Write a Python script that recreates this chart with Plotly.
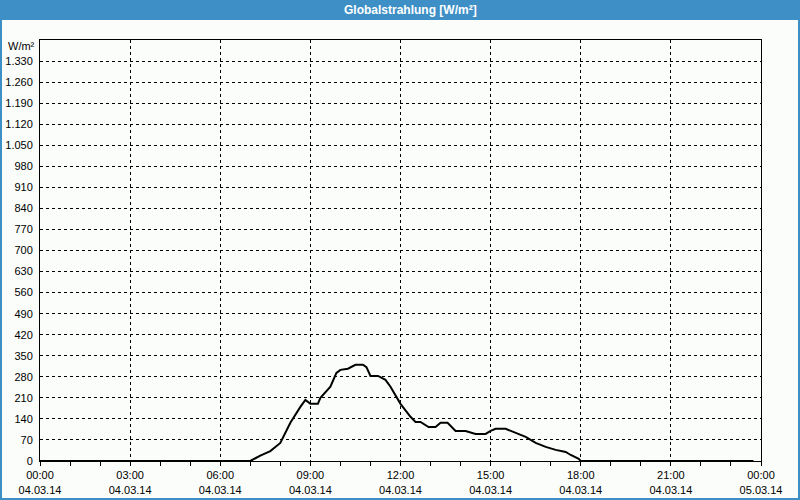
import plotly.graph_objects as go

# --- data (time of day, W/m²) ---
times = ["00:00", "07:00", "07:20", "07:40", "08:00", "08:20", "08:40", "08:50", "09:00",
         "09:15", "09:20", "09:40", "09:52", "10:00", "10:15", "10:30", "10:45", "10:52",
         "11:00", "11:15", "11:30", "11:40", "12:00", "12:20", "12:30", "12:40", "12:56",
         "13:10", "13:20", "13:34", "13:50", "14:10", "14:30", "14:50", "15:00", "15:10",
         "15:30", "15:50", "16:10", "16:30", "16:50", "17:10", "17:30", "17:40", "17:56",
         "18:00", "23:45"]
values = [0, 0, 18, 33, 60, 127, 180, 203, 190,
          190, 210, 247, 293, 303, 307, 320, 320, 312,
          283, 283, 270, 247, 190, 147, 130, 130, 113,
          113, 127, 127, 100, 100, 90, 90, 100, 107,
          107, 93, 80, 60, 47, 37, 30, 20, 7,
          0, 0]

x_tick_hours = ["00:00", "03:00", "06:00", "09:00", "12:00", "15:00", "18:00", "21:00", "00:00"]
x_tick_dates = ["04.03.14"] * 8 + ["05.03.14"]
y_ticks = list(range(0, 1331, 70))
y_ticktext = [f"{v:,}".replace(",", ".") for v in y_ticks]

day = "2014-03-04"
xs = [f"{day} {t}" for t in times]
tickvals = [f"{day} {h:02d}:00" for h in range(0, 24, 3)] + ["2014-03-05 00:00"]
ticktext = [f"{h}<br>{d}" for h, d in zip(x_tick_hours, x_tick_dates)]

W, H = 800, 500
ml, mr, mt, mb = 40, 39, 40, 39
pw, ph = W - ml - mr, H - mt - mb

def px(x):
    return (x - ml) / pw

def py(y):
    return (H - mb - y) / ph

fig = go.Figure()
fig.add_trace(go.Scatter(x=xs, y=values, mode="lines",
                         line=dict(color="black", width=2), hoverinfo="x+y"))

blue = "#3d8fc6"
shapes = [
    dict(type="rect", xref="paper", yref="paper", x0=px(0), x1=px(800), y0=py(0), y1=py(20),
         fillcolor=blue, line=dict(width=0), layer="above"),
    dict(type="rect", xref="paper", yref="paper", x0=px(0), x1=px(2), y0=py(0), y1=py(500),
         fillcolor=blue, line=dict(width=0)),
    dict(type="rect", xref="paper", yref="paper", x0=px(798), x1=px(800), y0=py(0), y1=py(500),
         fillcolor=blue, line=dict(width=0)),
    dict(type="rect", xref="paper", yref="paper", x0=px(0), x1=px(800), y0=py(498), y1=py(500),
         fillcolor=blue, line=dict(width=0)),
]

fig.update_layout(
    width=W, height=H,
    margin=dict(l=ml, r=mr, t=mt, b=mb, autoexpand=False),
    paper_bgcolor="#fbfdfb", plot_bgcolor="#fbfdfb",
    showlegend=False,
    font=dict(family="Liberation Sans, Arial, sans-serif", size=11, color="black"),
    shapes=shapes,
    annotations=[
        dict(text="<b>Globalstrahlung [W/m²]</b>", xref="paper", yref="paper",
             x=px(410), y=py(10), showarrow=False, xanchor="center", yanchor="middle",
             font=dict(color="white", size=12)),
        dict(text="W/m²", xref="paper", yref="paper", x=px(37), y=py(46),
             showarrow=False, xanchor="right", yanchor="middle", font=dict(size=11)),
    ],
    xaxis=dict(
        type="date", range=["2014-03-04 00:00", "2014-03-05 00:00"],
        tickmode="array", tickvals=tickvals, ticktext=ticktext,
        showgrid=True, gridcolor="black", gridwidth=1, griddash="3px,3px",
        showline=True, linecolor="black", linewidth=1, mirror=True,
        ticks="outside", ticklen=4, tickcolor="black", tickwidth=1,
        minor=dict(dtick=3600000, ticks="outside", ticklen=4, tickcolor="black", showgrid=False),
        zeroline=False, fixedrange=True, automargin=False,
    ),
    yaxis=dict(
        range=[0, 1400], tickmode="array", tickvals=y_ticks, ticktext=y_ticktext,
        showgrid=True, gridcolor="black", gridwidth=1, griddash="3px,3px",
        showline=True, linecolor="black", linewidth=1, mirror=True,
        ticks="", ticklabelstandoff=4, zeroline=False, fixedrange=True, automargin=False,
    ),
)

fig.write_html("out.html")
